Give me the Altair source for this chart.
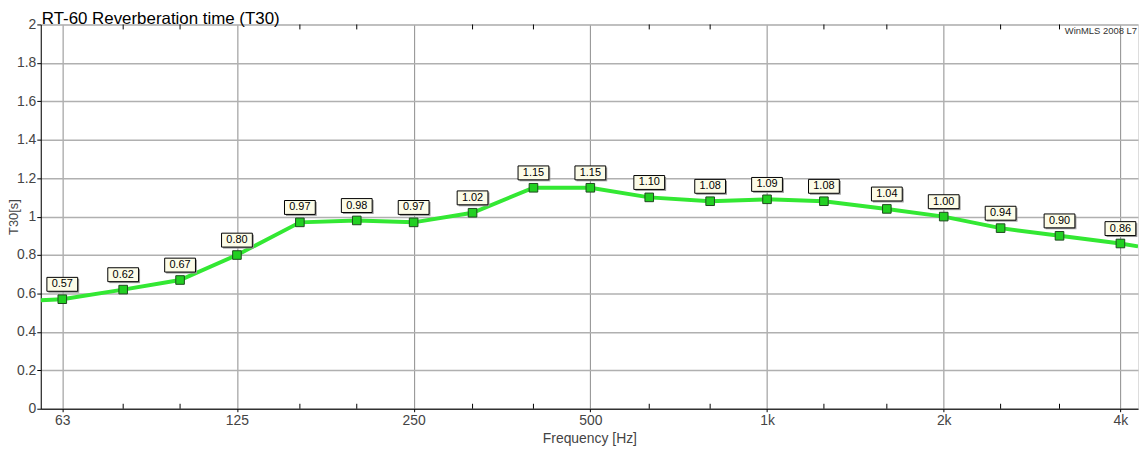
import altair as alt
import pandas as pd

# Third-octave band centre frequencies (Hz) and measured T30 (s)
freq = [63, 80, 100, 125, 160, 200, 250, 315, 400, 500, 630, 800,
        1000, 1250, 1600, 2000, 2500, 3150, 4000]
t30 = [0.57, 0.62, 0.67, 0.80, 0.97, 0.98, 0.97, 1.02, 1.15, 1.15, 1.10, 1.08,
       1.09, 1.08, 1.04, 1.00, 0.94, 0.90, 0.86]
labels = ["0.57", "0.62", "0.67", "0.80", "0.97", "0.98", "0.97", "1.02", "1.15",
          "1.15", "1.10", "1.08", "1.09", "1.08", "1.04", "1.00", "0.94", "0.90", "0.86"]

# Line continues to the plot edges (values read at the edges)
edge_freq = [57.9, 4286]
edge_t30 = [0.565, 0.845]

major_ticks = [63, 125, 250, 500, 1000, 2000, 4000]
major_labels = ["63", "125", "250", "500", "1k", "2k", "4k"]
minor_ticks = [80, 100, 160, 200, 315, 400, 630, 800, 1250, 1600, 2500, 3150]
y_ticks = [0, 0.2, 0.4, 0.6, 0.8, 1.0, 1.2, 1.4, 1.6, 1.8, 2.0]

chart_title = "RT-60 Reverberation time (T30)"
brand_text = "WinMLS 2008 L7"

W, H = 1105, 387
FONT = "Liberation Sans"

pts = pd.DataFrame({"f": freq, "t": t30, "lab": labels})
line_df = pd.DataFrame({"f": [edge_freq[0]] + freq + [edge_freq[1]],
                        "t": [edge_t30[0]] + t30 + [edge_t30[1]]})
minor_df = pd.DataFrame({"f": minor_ticks})

label_expr = "{" + ",".join(f"'{v}':'{l}'" for v, l in zip(major_ticks, major_labels)) + "}[datum.value]"

xscale = alt.Scale(type="log", domain=[edge_freq[0], edge_freq[1]], nice=False)
yscale = alt.Scale(domain=[0, 2], nice=False)

xaxis = alt.Axis(values=major_ticks, labelExpr=label_expr, grid=True, gridColor="#8c8c8c",
                 gridWidth=1, tickSize=3, tickColor="#000", domainColor="#000",
                 labelFont=FONT, labelFontSize=14, labelColor="#444", labelPadding=2,
                 labelOverlap=False,
                 title="Frequency [Hz]", titleFont=FONT, titleFontSize=14,
                 titleFontWeight="normal", titleColor="#444", titleY=30,
                 titleBaseline="middle")
yaxis = alt.Axis(values=y_ticks, format="~g", grid=True, gridColor="#b0b0b0",
                 gridWidth=1.5, tickSize=4, tickColor="#000", domainColor="#000",
                 labelFont=FONT, labelFontSize=14, labelColor="#444", labelPadding=1,
                 labelOverlap=False, labelBound=False, labelFlush=False,
                 title="T30[s]", titleFont=FONT, titleFontSize=13,
                 titleFontWeight="normal", titleColor="#444", titleX=-27,
                 titleAlign="center", titleBaseline="middle")

X = alt.X("f:Q", scale=xscale, axis=xaxis)
Y = alt.Y("t:Q", scale=yscale, axis=yaxis)

base_line = alt.Chart(line_df).mark_line(color="#33e833", strokeWidth=4,
                                         interpolate="linear", clip=True).encode(x=X, y=Y)

minor_bottom = alt.Chart(minor_df).mark_rule(color="#000", strokeWidth=1).encode(
    x=X, y=alt.value(H - 5), y2=alt.value(H))
minor_top = alt.Chart(minor_df).mark_rule(color="#000", strokeWidth=1).encode(
    x=X, y=alt.value(0), y2=alt.value(5))

points = alt.Chart(pts).mark_square(size=75, color="#22d022", stroke="#1e4a1e",
                                    strokeWidth=1, opacity=1, filled=True).encode(
    x=X, y=Y)

shadow = alt.Chart(pts).mark_rect(width=31, height=14, fill="#9a9a9a", xOffset=1.5,
                                  yOffset=-13.5).encode(x=X, y=Y)
boxes = alt.Chart(pts).mark_rect(width=31, height=14, fill="#fcfce8", stroke="#000",
                                 strokeWidth=1, yOffset=-15).encode(x=X, y=Y)
texts = alt.Chart(pts).mark_text(font=FONT, fontSize=11, color="#000", dy=-15,
                                 baseline="middle", align="center").encode(
    x=X, y=Y, text="lab:N")

brand = alt.Chart(pd.DataFrame({"s": [brand_text]})).mark_text(
    font=FONT, fontSize=9.5, color="#333", align="right", baseline="top").encode(
    x=alt.value(W - 1), y=alt.value(2), text="s:N")

title_mark = alt.Chart(pd.DataFrame({"s": [chart_title]})).mark_text(
    font=FONT, fontSize=17, color="#000", align="left", baseline="alphabetic",
    clip=False).encode(
    x=alt.value(1), y=alt.value(0), text="s:N")

chart = alt.layer(base_line, minor_bottom, minor_top, points, shadow, boxes, texts,
                  brand, title_mark).properties(
    width=W, height=H,
    autosize=alt.AutoSizeParams(type="none"),
    padding={"left": 33, "top": 15, "right": 2, "bottom": 42},
).configure_view(stroke="#555", strokeWidth=1).configure(background="white")

chart.save("out.html", embed_options={"renderer": "svg", "actions": False})
